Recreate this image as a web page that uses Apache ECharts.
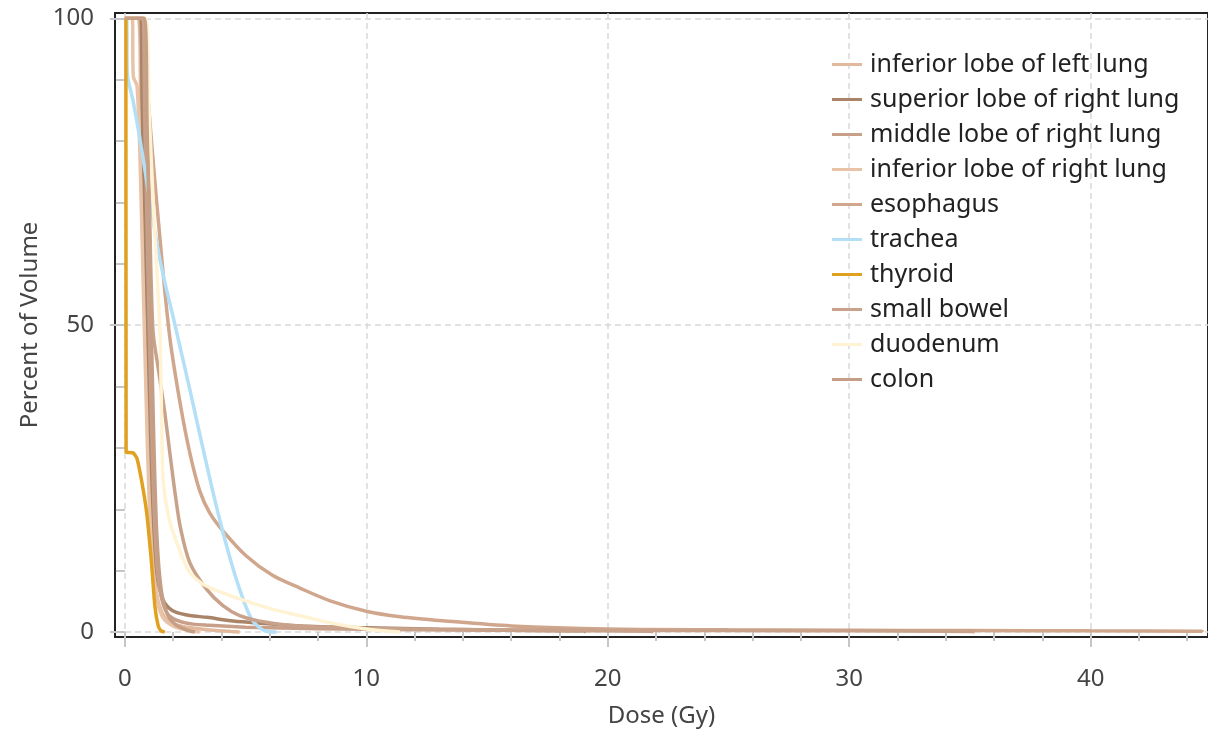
<!DOCTYPE html>
<html><head><meta charset="utf-8">
<script src="https://cdn.jsdelivr.net/npm/echarts@6/dist/echarts.min.js"></script>
<style>html,body{margin:0;padding:0;background:#fff}#c{width:1208px;height:733px}</style>
</head><body><div id="c"></div>
<script>
const seriesNames = ['inferior lobe of left lung','superior lobe of right lung','middle lobe of right lung','inferior lobe of right lung','esophagus','trachea','thyroid','small bowel','duodenum','colon'];
const seriesColors = ['#e2b99c','#a98468','#c8a08a','#e8c3a8','#d0a68c','#b3e0f7','#e0a020','#c9a28c','#fff3d4','#c59e86'];

const infLeftLung = [[0,100],[0.55,100],[0.65,88],[0.78,65],[0.9,42],[1.02,25],[1.15,13],[1.3,6.5],[1.5,3.5],[1.8,1.8],[2.4,0.9],[3.4,0.4],[4.4,0.1],[4.75,0]];
const supRightLung = [[0,100],[0.6,100],[0.72,85],[0.85,62],[0.98,40],[1.12,22],[1.3,10],[1.55,5.5],[1.8,4],[2.13,3.2],[2.69,2.7],[3.4,2.4],[4.48,1.8],[5.8,1.4],[7.23,1.0],[10,0.7],[13,0.45],[16,0.3],[19,0.2],[19.1,0]];
const midRightLung = [[0,100],[0.7,100],[0.82,84],[0.95,60],[1.08,38],[1.2,21],[1.35,10],[1.55,5],[1.85,2.6],[2.5,1.5],[3.5,1.1],[5,0.8],[8,0.55],[12,0.4],[17,0.25],[21.8,0.15],[21.9,0]];
const infRightLung = [[0,100],[0.3,100],[0.35,90.5],[0.5,89],[0.62,78],[0.75,58],[0.88,38],[1.0,22],[1.15,11],[1.35,5],[1.6,2.2],[2.1,0.8],[2.8,0.2],[3.1,0]];
const esophagus = [[0,100],[0.7,100],[0.9,90],[1.1,80],[1.5,62],[1.86,48],[2.3,37],[2.7,29],[3.1,23],[3.5,19.5],[4.06,16.5],[5.03,12.4],[6.13,9.2],[7.23,7.2],[8.5,5.1],[10,3.4],[11.4,2.5],[13.3,1.8],[16,1.0],[20,0.5],[25,0.38],[30,0.3],[35,0.25],[40,0.2],[44.6,0.15],[44.65,0]];
const trachea = [[0,100],[0.07,100],[0.1,91],[0.33,86.7],[0.55,82],[0.83,75.3],[1.45,60.7],[2.07,50.1],[2.69,39.5],[3.2,30.5],[3.72,21.6],[4.25,13.5],[4.75,7],[5.25,2.1],[5.79,0.2],[6.28,0]];
const thyroid = [[0,100],[0.04,100],[0.05,29.3],[0.34,29.2],[0.5,28.3],[0.7,24.5],[0.9,19.5],[1.1,11.4],[1.24,4.3],[1.38,1.0],[1.5,0.2],[1.65,0]];
const smallBowel = [[0,100],[0.75,100],[0.88,88],[1.0,72],[1.16,49.3],[1.4,42.5],[1.65,35.8],[1.9,28],[2.1,22],[2.3,17],[2.69,11.3],[3.38,7],[4.06,4.3],[4.75,2.7],[5.86,1.6],[7.23,1.0],[10,0.6],[15,0.4],[20,0.3],[25,0.25],[30,0.2],[35.1,0.1],[35.2,0]];
const duodenum = [[0,100],[0.85,100],[1.0,85],[1.2,68],[1.45,49],[1.52,35],[1.58,25],[1.75,20],[2.0,16.2],[2.35,12.5],[2.69,9.7],[3.38,7.5],[4.75,5.4],[6.13,3.7],[7.23,2.7],[8.5,1.5],[10,0.5],[11.4,0]];
const colon = [[0,100],[0.8,100],[0.92,82],[1.05,58],[1.18,34],[1.32,16],[1.5,7],[1.75,3],[2.1,1.2],[2.6,0.3],[2.9,0]];

const seriesData = [infLeftLung, supRightLung, midRightLung, infRightLung, esophagus, trachea, thyroid, smallBowel, duodenum, colon];

const xMajorTicks = [0,10,20,30,40];
const xMinorTicks = [0,2,4,6,8,10,12,14,16,18,20,22,24,26,28,30,32,34,36,38,40,42,44];
const yMajorTicks = [0,50,100];
const yMinorTicks = [0,10,20,30,40,50,60,70,80,90,100];

const FONT = 'Noto Sans';
const xMin = -0.41, xMax = 44.86, yMin = -0.8, yMax = 100.86;
const tickStyle = {color:'#c6c6c6', width:2};
const gridLine = {color:'#d9d9d9', width:1.5, type:[6,4]};

const chart = echarts.init(document.getElementById('c'), null, {renderer:'canvas'});
chart.setOption({
  animation:false,
  backgroundColor:'#fff',
  grid:{left:115, top:13, right:-2, bottom:95, show:true, borderColor:'#222', borderWidth:2, backgroundColor:'transparent'},
  legend:{
    orient:'vertical', left:832, top:52, padding:0,
    icon:'rect', itemWidth:30, itemHeight:3, itemGap:10,
    data:seriesNames,
    textStyle:{fontFamily:FONT, fontSize:25, color:'#222', lineHeight:25, padding:[0,0,0,3]}
  },
  xAxis:[
    {type:'value', min:xMin, max:xMax, position:'bottom',
     axisLine:{show:false},
     axisTick:{show:true, customValues:xMinorTicks, length:9, lineStyle:tickStyle},
     axisLabel:{customValues:xMajorTicks, margin:30, fontFamily:FONT, fontSize:24, color:'#444'},
     splitLine:{show:false},
     name:'Dose (Gy)', nameLocation:'middle', nameGap:67,
     nameTextStyle:{fontFamily:FONT, fontSize:24, color:'#444'}},
    {type:'value', min:xMin, max:xMax, position:'bottom',
     axisLine:{show:false},
     axisTick:{show:true, customValues:xMajorTicks, length:15, lineStyle:tickStyle},
     axisLabel:{show:false},
     splitLine:{show:true, lineStyle:gridLine}}
  ],
  yAxis:[
    {type:'value', min:yMin, max:yMax, position:'left',
     axisLine:{show:false},
     axisTick:{show:true, customValues:yMinorTicks, length:9, lineStyle:tickStyle},
     axisLabel:{customValues:yMajorTicks, margin:21, fontFamily:FONT, fontSize:24, color:'#444'},
     splitLine:{show:false},
     name:'Percent of Volume', nameLocation:'middle', nameGap:66, nameRotate:90,
     nameTextStyle:{fontFamily:FONT, fontSize:24, color:'#444'}},
    {type:'value', min:yMin, max:yMax, position:'left',
     axisLine:{show:false},
     axisTick:{show:true, customValues:yMajorTicks, length:15, lineStyle:tickStyle},
     axisLabel:{show:false},
     splitLine:{show:true, lineStyle:gridLine}}
  ],
  series: seriesNames.map((name, i) => ({
    name, type:'line', xAxisIndex:0, yAxisIndex:0,
    data: seriesData[i], symbol:'none', showSymbol:false,
    smooth: i === 6 ? 0.15 : 0.3,
    lineStyle:{width:3.5, color:seriesColors[i]}, itemStyle:{color:seriesColors[i]},
    emphasis:{disabled:true}
  }))
});
</script></body></html>
